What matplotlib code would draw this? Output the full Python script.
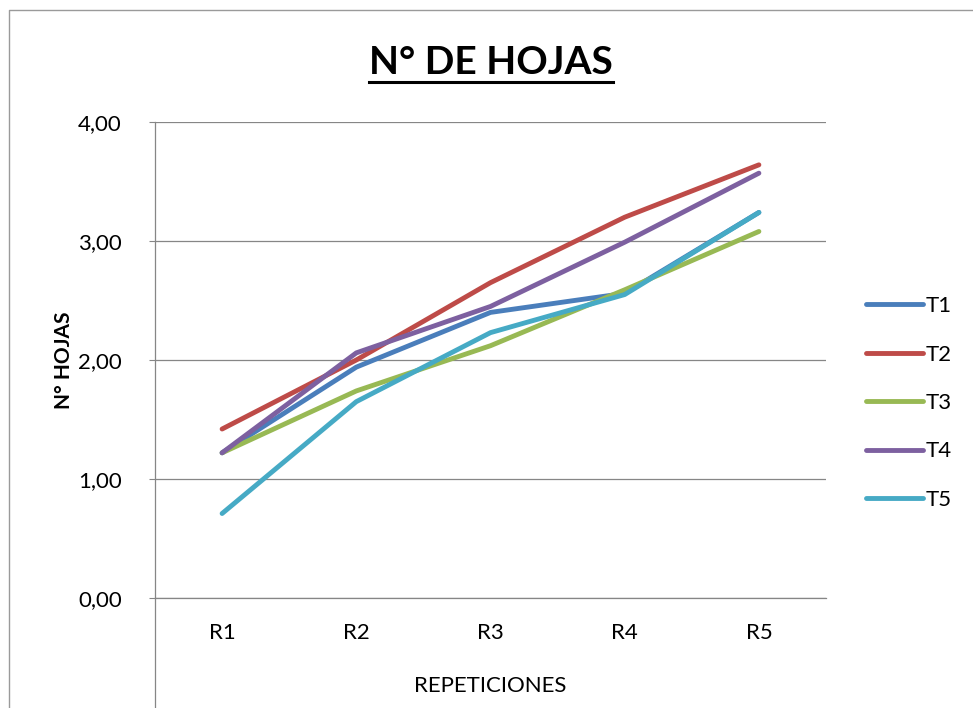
import matplotlib
matplotlib.use("Agg")
import matplotlib.pyplot as plt
from matplotlib.lines import Line2D

plt.rcParams['font.family'] = ['Lato', 'DejaVu Sans']

# data
repeticiones = ["R1", "R2", "R3", "R4", "R5"]
t1 = [1.22, 1.94, 2.40, 2.56, 3.24]
t2 = [1.42, 2.00, 2.65, 3.20, 3.64]
t3 = [1.22, 1.74, 2.12, 2.59, 3.08]
t4 = [1.22, 2.06, 2.45, 2.99, 3.57]
t5 = [0.71, 1.65, 2.23, 2.55, 3.24]

series = [("T1", t1, "#4A7EBB"),
          ("T2", t2, "#BE4B48"),
          ("T3", t3, "#98B954"),
          ("T4", t4, "#7D60A0"),
          ("T5", t5, "#46AAC5")]

W, H = 973, 708
fig = plt.figure(figsize=(W / 100, H / 100), dpi=100)
ax = fig.add_axes([155 / W, 1 - 598 / H, (826 - 155) / W, (598 - 122) / H])

x = list(range(len(repeticiones)))
for name, vals, col in series:
    ax.plot(x, vals, color=col, lw=3.5, solid_capstyle='round',
            solid_joinstyle='round', label=name)

ax.set_xlim(-0.5, 4.5)
ax.set_ylim(0, 4)
ax.set_yticks([0, 1, 2, 3, 4])
ax.set_yticklabels(["0,00", "1,00", "2,00", "3,00", "4,00"], fontsize=16)
ax.set_xticks(x)
ax.set_xticklabels(repeticiones, fontsize=16)
ax.tick_params(axis='x', length=0, pad=18)
ax.tick_params(axis='y', length=4, width=0.8, color="#868686", pad=20)
ax.grid(axis='y', color="#868686", lw=0.9)
ax.set_axisbelow(True)
for s in ["top", "right"]:
    ax.spines[s].set_visible(False)
for s in ["left", "bottom"]:
    ax.spines[s].set_color("#868686")
    ax.spines[s].set_linewidth(0.9)

ax.set_xlabel("REPETICIONES", fontsize=16, labelpad=24)
ax.set_ylabel("N° HOJAS", fontsize=15, fontweight='bold', labelpad=3)

ax.legend(loc='center left', bbox_to_anchor=(846 / W, 1 - 403 / H),
          bbox_transform=fig.transFigure, frameon=False, fontsize=16,
          handlelength=2.55, handletextpad=0.15, labelspacing=1.28)

# title with underline
title = fig.text(491 / W, 1 - 62 / H, "N° DE HOJAS", fontsize=28,
                 fontweight='bold', ha='center', va='center')
fig.canvas.draw()
bb = title.get_window_extent()
fig.add_artist(Line2D([bb.x0 / W, bb.x1 / W], [1 - 82 / H, 1 - 82 / H],
                      color='black', lw=2.2))

# chart frame and extended axis line
fig.add_artist(Line2D([9 / W, 9 / W, 1], [0, 1 - 10 / H, 1 - 10 / H],
                      color="#9a9a9a", lw=1.0))
fig.add_artist(Line2D([155 / W, 155 / W], [0, 1 - 598 / H],
                      color="#868686", lw=0.9))

fig.savefig("out.png", dpi=100)
